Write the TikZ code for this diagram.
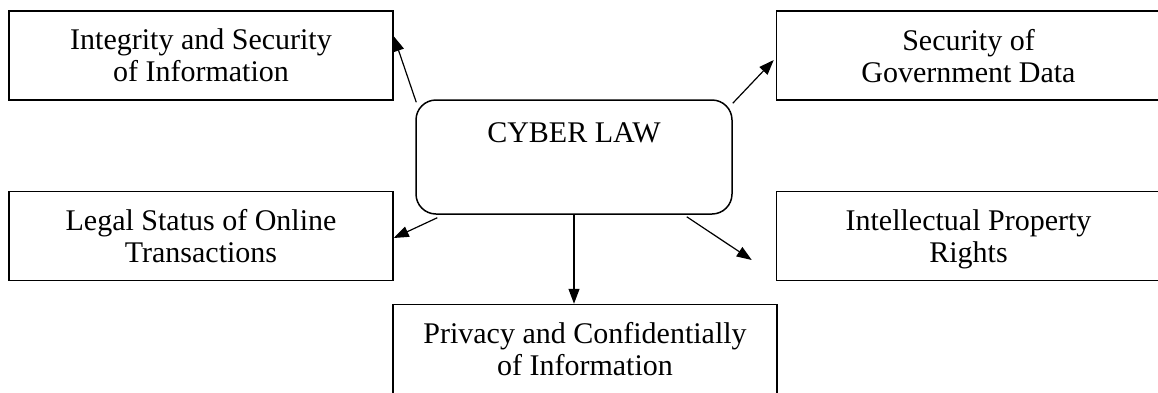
\documentclass[tikz,border=0pt]{standalone}
\usepackage{fontspec}
\setmainfont{Liberation Serif}
\usepackage{tikz}
\usetikzlibrary{arrows.meta,calc,positioning}

\tikzset{
    topicbox/.style={draw, line width=0.75pt, minimum width=192pt, minimum height=44.5pt,
        align=center, text depth=0pt, inner sep=0pt},
    lawbox/.style={draw, line width=0.75pt, rounded corners=10pt, minimum width=158pt,
        minimum height=57pt, text height=10pt, text depth=25pt},
    lawarrow/.style={-{Triangle[length=7.5pt, width=5.5pt]}, line width=0.6pt}
}

\begin{document}
\begin{tikzpicture}[x=0.5pt, y=-0.5pt, font=\fontsize{15}{16}\selectfont]
    \useasboundingbox (0,0) rectangle (1158,392);
    \clip (0,0) rectangle (1158,392);
    % Centre
    \node[lawbox] (law) at (574,157) {CYBER LAW};
    % Topic boxes
    \node[topicbox] (intg) at (201,55.5) {Integrity and Security\\of Information};
    \node[topicbox] (legal) at (201,236) {Legal Status of Online\\Transactions};
    \node[topicbox] (govt) at (968.5,55.5) {Security of\\Government Data};
    \node[topicbox] (ipr) at (968.5,236) {Intellectual Property\\Rights};
    \node[topicbox] (priv) at (585,349) {Privacy and Confidentially\\of Information};
    % Arrows
    \draw[lawarrow] ($(law.north west)+(1,3)$) -- ($(intg.north east)+(0,26)$);
    \draw[lawarrow] ($(law.north east)+(0,4)$) -- ($(govt.west)+(-2,4.5)$);
    \draw[lawarrow] ($(law.south west)+(22,3)$) -- ($(legal.east)+(0,2)$);
    \draw[lawarrow] ($(law.south east)+(-46,2)$) -- ($(ipr.west)+(-24,24)$);
    \draw[lawarrow] (law.south) -- (law.south |- priv.north);
\end{tikzpicture}
\end{document}
